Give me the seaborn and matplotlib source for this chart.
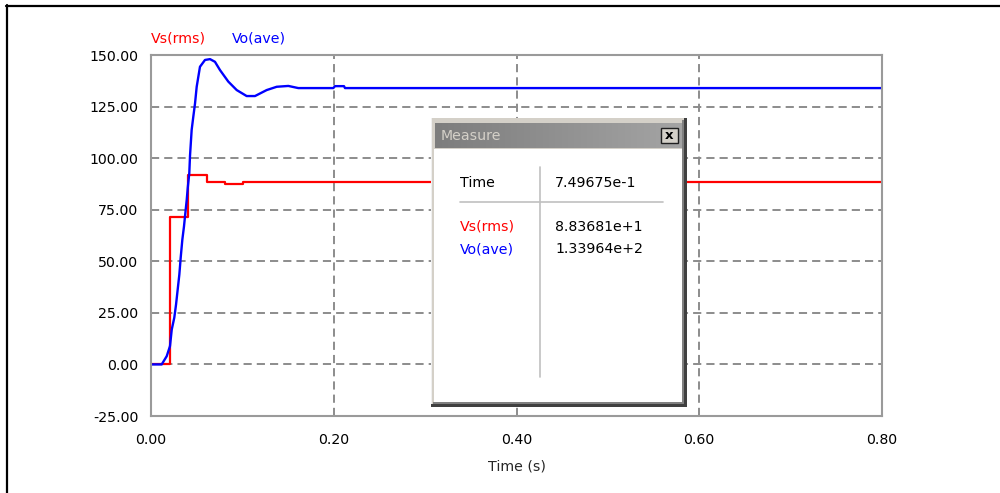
import numpy as np
import matplotlib
matplotlib.use("Agg")
import matplotlib.pyplot as plt
from matplotlib.lines import Line2D
from matplotlib.patches import Rectangle
import seaborn as sns

sns.set_style("white")
plt.rcParams["font.family"] = ["DejaVu Sans"]

# Waveform samples: Vs(rms) is held per 20 ms cycle, Vo(ave) is the averaged output
vs_time = [0.0, 0.021, 0.041, 0.061, 0.081, 0.101, 0.80]
vs_rms = [0.0, 71.5, 92.0, 88.4, 87.7, 88.3681, 88.3681]

vo_time = [0.0, 0.0117, 0.0172, 0.0208, 0.0227, 0.0255, 0.0274, 0.0292, 0.0310, 0.0325,
           0.0343, 0.0361, 0.0372, 0.0391, 0.0402, 0.0419, 0.0427, 0.0445, 0.0463, 0.0482,
           0.0500, 0.0536, 0.0591, 0.0646, 0.0700, 0.0755, 0.0846, 0.0938, 0.1047, 0.1138,
           0.1266, 0.1376, 0.1503, 0.1612, 0.1995, 0.2014, 0.2112, 0.2123, 0.80]
vo_ave = [0.0, 0.0, 4.0, 8.9, 16.9, 22.7, 29.0, 36.3, 43.5, 51.8,
          60.5, 66.9, 71.7, 79.8, 85.5, 92.7, 101.2, 113.7, 120.1, 126.6,
          134.6, 144.3, 147.6, 148.0, 146.7, 142.7, 137.1, 133.0, 130.1, 130.1,
          133.0, 134.6, 135.0, 133.964, 133.964, 134.9, 134.9, 133.964, 133.964]

series_names = ["Vs(rms)", "Vo(ave)"]
series_colors = ["#ff0000", "#0000ff"]

x_ticks = [0.0, 0.2, 0.4, 0.6, 0.8]
y_ticks = [-25, 0, 25, 50, 75, 100, 125, 150]

# Measure window readout
measure_rows = [("Time", "7.49675e-1", "black"),
                ("Vs(rms)", "8.83681e+1", "#ff0000"),
                ("Vo(ave)", "1.33964e+2", "#0000ff")]

W, H = 1000, 493
fig = plt.figure(figsize=(W / 100, H / 100), dpi=100)
fig.patch.set_facecolor("white")

def fx(px):
    return px / W

def fy(py):
    return 1 - py / H

FS = 10.2

ax = fig.add_axes([fx(151), fy(416), fx(882) - fx(151), fy(55) - fy(416)])
ax.set_facecolor("white")

sns.lineplot(x=vs_time, y=vs_rms, ax=ax, color=series_colors[0], lw=1.6,
             drawstyle="steps-post", estimator=None, sort=False, zorder=3)
sns.lineplot(x=vo_time, y=vo_ave, ax=ax, color=series_colors[1], lw=1.7,
             estimator=None, sort=False, zorder=4)

ax.set_xlim(0, 0.8)
ax.set_ylim(-25, 150)
ax.set_xticks(x_ticks)
ax.set_xticklabels([f"{v:.2f}" for v in x_ticks], fontsize=FS)
ax.set_yticks(y_ticks)
ax.set_yticklabels([f"{v:.2f}" for v in y_ticks], fontsize=FS)
ax.tick_params(axis="both", length=0, colors="black")
ax.tick_params(axis="y", pad=9)
ax.tick_params(axis="x", pad=12)
ax.set_xlabel("Time (s)", fontsize=FS, labelpad=9)
ax.set_ylabel("")

ax.set_axisbelow(True)
ax.grid(True, color="#8c8c8c", lw=1.4, linestyle=(0, (4.2, 2.6)))
for s in ax.spines.values():
    s.set_color("#9a9a9a")
    s.set_linewidth(1.5)
    s.set_zorder(5)

# Series captions above the plot
fig.text(fx(151), fy(38), series_names[0], color=series_colors[0], fontsize=FS,
         ha="left", va="center")
fig.text(fx(232), fy(38), series_names[1], color=series_colors[1], fontsize=FS,
         ha="left", va="center")

# Outer window frame
fig.add_artist(Line2D([fx(6), 1.0], [fy(5.5), fy(5.5)], color="black", lw=1.6))
fig.add_artist(Line2D([fx(7), fx(7)], [0.0, fy(5)], color="black", lw=1.6))

# Measure dialog drawn on top of the plot
x0, y0, x1, y1 = 431, 118, 687, 407
dw, dh = x1 - x0, y1 - y0
dax = fig.add_axes([fx(x0), fy(y1), fx(x1) - fx(x0), fy(y0) - fy(y1)])
dax.set_xlim(0, dw)
dax.set_ylim(dh, 0)
dax.set_axis_off()

dax.add_patch(Rectangle((0, 0), dw, dh, facecolor="#d4d0c8", edgecolor="none"))
dax.add_patch(Rectangle((0, 0), 1.2, dh, facecolor="#f0f0f0", edgecolor="none"))
dax.add_patch(Rectangle((3, 31), dw - 7, dh - 36, facecolor="white", edgecolor="none"))
dax.add_patch(Rectangle((dw - 5, 2), 1.6, dh - 4, facecolor="#808080", edgecolor="none"))
dax.add_patch(Rectangle((2, dh - 5), dw - 4, 1.6, facecolor="#808080", edgecolor="none"))
dax.add_patch(Rectangle((dw - 3.4, 0), 3.4, dh, facecolor="#404040", edgecolor="none"))
dax.add_patch(Rectangle((0, dh - 3.4), dw, 3.4, facecolor="#404040", edgecolor="none"))

grad = np.linspace(0, 1, 256).reshape(1, -1)
dax.imshow(grad, extent=(4, dw - 5, 30, 5), cmap=matplotlib.colors.LinearSegmentedColormap.from_list(
    "title", ["#7d7d7d", "#a4a4a4"]), aspect="auto", zorder=2)
dax.text(9.5, 17.5, "Measure", color="#d4d0c8", fontsize=FS, ha="left", va="center", zorder=3)

# close button
dax.add_patch(Rectangle((229.5, 10), 17.5, 15, facecolor="#d4d0c8", edgecolor="#202020",
                        lw=1.0, zorder=3))
dax.text(238.3, 17.2, "x", color="black", fontsize=9.5, fontweight="bold",
         ha="center", va="center", zorder=4)

# table grid lines
dax.plot([29, 232], [84.3, 84.3], color="#c0c0c0", lw=1.2, zorder=3)
dax.plot([109, 109], [48.7, 258.7], color="#c0c0c0", lw=1.2, zorder=3)

row_y = [65, 108.7, 131.3]
for (name, val, col), yy in zip(measure_rows, row_y):
    dax.text(29, yy, name, color=col, fontsize=FS, ha="left", va="center", zorder=4)
    dax.text(124, yy, val, color="black", fontsize=FS, ha="left", va="center", zorder=4)

fig.savefig("out.png", dpi=100, facecolor="white")
